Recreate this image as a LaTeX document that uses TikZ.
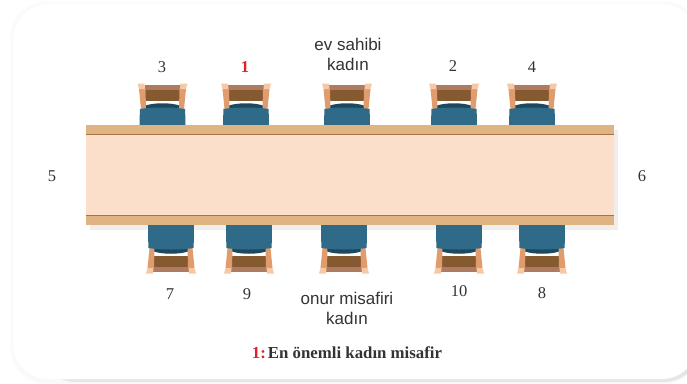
\documentclass[tikz,border=0pt]{standalone}
\usepackage{fontspec}
\setmainfont{Liberation Serif}
\newfontfamily\lsans{Liberation Sans}
\definecolor{seat}{HTML}{2F6A88}
\definecolor{seatdark}{HTML}{1C4A5C}
\definecolor{head}{HTML}{AE7A60}
\definecolor{backc}{HTML}{855A30}
\definecolor{post}{HTML}{E09C6C}
\definecolor{postlight}{HTML}{F8C8A4}
\definecolor{strip}{HTML}{E0B482}
\definecolor{stripline}{HTML}{A8714A}
\definecolor{tabletop}{HTML}{FBDFCB}
\definecolor{tshadow}{HTML}{F1EDEA}
\definecolor{ink}{HTML}{333333}
\definecolor{redn}{HTML}{E3202A}
\definecolor{shA}{HTML}{FCFCFC}
\definecolor{shB}{HTML}{F9F9F9}
\definecolor{shC}{HTML}{E6E6E6}
\tikzset{
 chair/.pic={
  \fill[backc] (-18,5) rectangle (18,16);
  \fill[head] (-18,0) rectangle (18,5);
  \fill[seatdark] (-17,24) -- (-17,20.5) .. controls (-8,17.5) and (8,17.5) .. (17,20.5) -- (17,24) -- cycle;
  \fill[post] (-23.5,4) -- (-17,4) -- (-16.5,24) -- (-21.5,24) -- cycle;
  \fill[post] (23.5,4) -- (17,4) -- (16.5,24) -- (21.5,24) -- cycle;
  \fill[postlight] (-25,-1.5) -- (-18,-1.5) -- (-17.5,4) -- (-23.5,4) -- cycle;
  \fill[postlight] (25,-1.5) -- (18,-1.5) -- (17.5,4) -- (23.5,4) -- cycle;
  \fill[seat] (-22.7,24) .. controls (-10,22) and (10,22) .. (22.7,24) -- (22.9,47) -- (-22.9,47) -- cycle;
 },
 num/.style={font=\fontsize{16.5}{16.5}\selectfont, text=ink, anchor=center, inner sep=0pt},
 lab/.style={font=\lsans\fontsize{17}{20}\selectfont, text=ink, align=center, anchor=center, inner sep=0pt},
}
\begin{document}
\begin{tikzpicture}[x=1pt,y=-1pt]
\useasboundingbox (0,0) rectangle (687,383);
\fill[white] (0,0) rectangle (687,383);
% card and its soft shadow
\fill[shA,rounded corners=37pt] (10,1) rectangle (700,385);
\fill[shB,rounded corners=36pt] (12,3) rectangle (700,383);
\fill[shC,rounded corners=36pt] (40,30) rectangle (700,382);
\fill[white,rounded corners=35pt] (13,4) rectangle (697,379);
% table shadow
\fill[tshadow] (90,130) rectangle (618,230);
% top chairs
\foreach \n/\cx in {a/162.5,b/246,c/347,d/454,e/532}{
  \pic (chairT\n) at (\cx,85) {chair};
}
% bottom chairs
\foreach \n/\cx in {f/171,g/249,h/344,i/459,j/542}{
  \pic[yscale=-1] (chairB\n) at (\cx,272) {chair};
}
% table
\fill[tabletop] (86,134) rectangle (614,215);
\fill[strip] (86,125) rectangle (614,134);
\fill[strip] (86,215) rectangle (614,225);
\draw[stripline,line width=1pt] (86,134) -- (614,134);
\draw[stripline,line width=1pt] (86,215.5) -- (614,215.5);
% labels
\node[num] (n3) at (162,67) {3};
\node[num,text=redn,font=\bfseries\fontsize{16.5}{16.5}\selectfont] (n1) at (245,67) {1};
\node[num] (n2) at (453,66) {2};
\node[num] (n4) at (532,67) {4};
\node[num] (n5) at (52,176) {5};
\node[num] (n6) at (642,176) {6};
\node[num] (n7) at (170,294) {7};
\node[num] (n9) at (247,294) {9};
\node[num] (n10) at (459,291) {10};
\node[num] (n8) at (542,293) {8};
\node[lab] (host) at (348,54) {ev sahibi\\kadın};
\node[lab] (guest) at (347,308) {onur misafiri\\kadın};
\node[font=\bfseries\fontsize{16.8}{16.8}\selectfont,text=ink,inner sep=0pt] (cap) at (347,353) {\textcolor{redn}{1:}\hspace{0.12em}En önemli kadın misafir};
\end{tikzpicture}
\end{document}
